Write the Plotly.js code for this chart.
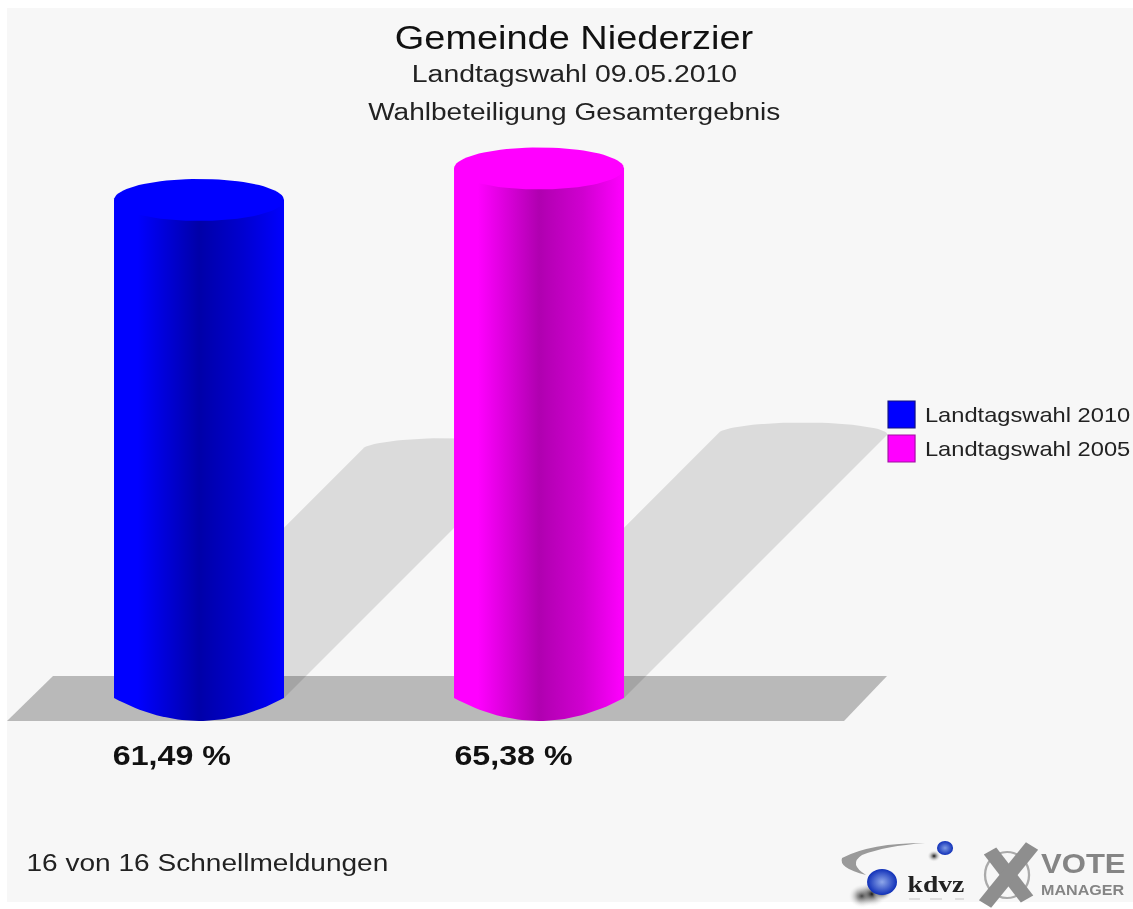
<!DOCTYPE html>
<html><head><meta charset="utf-8">
<script src="https://cdn.plot.ly/plotly-3.0.1.min.js"></script>
<style>
html,body{margin:0;padding:0;background:#fff;overflow:hidden}
#wrap{width:1133px;height:909px;overflow:hidden;position:relative}
#chart{width:985px;height:909px;transform:scaleX(1.1503);transform-origin:0 0;filter:blur(0.55px)}
</style></head>
<body><div id="wrap"><div id="chart"></div></div>
<script>
// ---- data ----
const seriesNames = ['Landtagswahl 2010', 'Landtagswahl 2005'];
const turnout = [61.49, 65.38];
const turnoutLabels = ['61,49 %', '65,38 %'];
const sideColors = ['#0000ff', '#ff00ff'];
const midColors = ['#0000d0', '#d000d0'];
const darkColors = ['#0000a8', '#b000b0'];
const titleLines = ['Gemeinde Niederzier', 'Landtagswahl 09.05.2010', 'Wahlbeteiligung Gesamtergebnis'];
const footerText = '16 von 16 Schnellmeldungen';

// ---- geometry (page pixels <-> axis values) ----
const W = 1133, H = 909, BASE = 698, PXU = 8.1;
const vOf = px => (BASE - px) / PXU;
const centers = [199, 539];
const RX = 85, TOP_RY = 21, BOT_RY = 23, SHADOW = 4.03, SHADOW_RY = 12;
const py = y => 1 - y / H;

function arc(cx, cy, rx, ry, a0, a1, n) {
  const xs = [], ys = [];
  for (let i = 0; i <= n; i++) {
    const a = a0 + (a1 - a0) * i / n;
    xs.push(cx + rx * Math.cos(a));
    ys.push(cy + ry * Math.sin(a));
  }
  return [xs, ys];
}
function bowl(cx, rx, ry, n) {
  const xs = [], ys = [];
  for (let i = 0; i <= n; i++) {
    const t = -1 + 2 * i / n;
    xs.push(cx + rx * t);
    ys.push(-ry * (1 - t * t));
  }
  return [xs, ys];
}
const traces = [];
const poly = (x, y, color) => ({x, y, type:'scatter', mode:'lines', fill:'toself', fillcolor:color,
  line:{width:0}, hoverinfo:'skip', showlegend:false});

// floor
traces.push(poly([53,887,844,7,53], [676,676,721,721,676].map(vOf), '#b9b9b9'));

// shadows, proportional to the value
turnout.forEach((v, i) => {
  const off = v * SHADOW, cx = centers[i];
  const [ax, ay] = arc(cx + off, vOf(BASE - off), RX, SHADOW_RY / PXU, Math.PI, 0, 40);
  traces.push(poly([cx - RX, ...ax, cx + RX, cx - RX], [0, ...ay, 0, 0], 'rgba(0,0,0,0.11)'));
});

// cylinders
turnout.forEach((v, i) => {
  const cx = centers[i];
  const [bx, by] = bowl(cx, RX, BOT_RY / PXU, 40);
  const body = poly([cx - RX, ...bx, cx + RX, cx - RX], [v, ...by, v, v], sideColors[i]);
  body.name = seriesNames[i];
  body.fillgradient = {type:'horizontal', colorscale:[
    [0, sideColors[i]], [0.14, sideColors[i]], [0.5, darkColors[i]], [0.76, midColors[i]], [1, sideColors[i]]]};
  traces.push(body);
  const [tx, ty] = arc(cx, v, RX, TOP_RY / PXU, 0, 2 * Math.PI, 80);
  traces.push(poly(tx, ty, sideColors[i]));
});

// logo balls (radial gradient: gradient.color is the centre, marker.color the edge)
const ball = (x, y, size, edge, centre) => ({x:[x], y:[vOf(y)], type:'scatter', mode:'markers', hoverinfo:'skip', showlegend:false,
  marker:{size, color:edge, line:{width:0}, gradient:{type:'radial', color:centre}}});
const SOFT = 'rgba(247,247,247,0)', INK = 'rgba(20,20,20,1)';
traces.push(ball(862, 896, 24, SOFT, INK));
traces.push(ball(872, 894, 26, SOFT, INK));
traces.push(ball(882, 892, 18, SOFT, INK));
traces.push(ball(882, 882, 26, '#1030b8', '#8fa8ea'));
traces.push(ball(934, 856, 12, SOFT, INK));
traces.push(ball(945, 848, 14, '#1030b8', '#7f9be4'));

// ---- shapes ----
const rect = (x0, y0, x1, y1, fill, line, layer) => ({type:'rect', xref:'x', yref:'y', x0, x1, y0:vOf(y0), y1:vOf(y1),
  fillcolor:fill, line: line ? {color:line, width:1} : {width:0}, layer: layer || 'above'});
const seg = (x0, y0, x1, y1, w, c) => ({type:'line', xref:'x', yref:'y', x0, x1, y0:vOf(y0), y1:vOf(y1), line:{color:c, width:w}, layer:'above'});
const shapes = [
  rect(7, 8, 1133, 902, '#f7f7f7', null, 'below'),
  rect(888, 401, 915, 428, sideColors[0], '#101080'),
  rect(888, 435, 915, 462, sideColors[1], '#a010a0'),
  {type:'path', xref:'x', yref:'y', fillcolor:'#9a9a9a', line:{width:0}, layer:'below',
   path:`M 925 ${vOf(843)} Q 870 ${vOf(843)} 842 ${vOf(858)} Q 838 ${vOf(868)} 866 ${vOf(875)} Q 848 ${vOf(864)} 862 ${vOf(855)} Q 885 ${vOf(846)} 925 ${vOf(843)} Z`},
  {type:'circle', xref:'x', yref:'y', x0:985, x1:1029, y0:vOf(852), y1:vOf(898), fillcolor:'rgba(0,0,0,0)', line:{color:'#aaaaaa', width:2}, layer:'above'},
  seg(990, 851, 1027, 899, 13, '#8e8e8e'),
  seg(1032, 846, 985, 904, 13, '#8e8e8e'),
  seg(909, 899, 920, 899, 1, '#c4c4c4'),
  seg(930, 899, 942, 899, 1, '#c4c4c4'),
  seg(955, 899, 964, 899, 1, '#c4c4c4')
];

// ---- text ----
const FONT = '"Liberation Sans", Arial, sans-serif';
const note = (x, y, text, size, color, anchor, family, weight) => ({
  xref:'x', yref:'paper', x, y:py(y), text, showarrow:false, xanchor:anchor || 'left', yanchor:'middle',
  font:{family:family || FONT, size, color:color || '#111', weight:weight || 400}});
const annotations = [
  note(574, 73, titleLines[1], 24.7, '#222', 'center'),
  note(574, 111, titleLines[2], 24.4, '#222', 'center'),
  note(24, 862, footerText, 24.4, '#222'),
  note(110, 755, turnoutLabels[0], 28, '#111', 'left', FONT, 700),
  note(452, 755, turnoutLabels[1], 28, '#111', 'left', FONT, 700),
  note(922, 415, seriesNames[0], 20.6, '#222'),
  note(922, 448, seriesNames[1], 20.6, '#222'),
  note(905, 884, 'kdvz', 24, '#222', 'left', '"Liberation Serif", serif', 700),
  note(1039, 864, 'VOTE', 27, '#858585', 'left', FONT, 700),
  note(1039, 890, 'MANAGER', 14, '#858585', 'left', FONT, 700)
];

const layout = {
  width:985, height:H, margin:{l:0,r:0,t:0,b:0}, paper_bgcolor:'#ffffff', plot_bgcolor:'rgba(0,0,0,0)',
  showlegend:false, hovermode:false,
  title:{text:titleLines[0], x:574/W, xanchor:'center', y:py(37), yanchor:'middle', yref:'container',
         font:{family:FONT, size:33, color:'#111'}},
  xaxis:{range:[0,W], visible:false, fixedrange:true},
  yaxis:{range:[vOf(H), vOf(0)], visible:false, fixedrange:true},
  shapes, annotations
};
Plotly.newPlot('chart', traces, layout, {displayModeBar:false, staticPlot:true});
</script></body></html>
